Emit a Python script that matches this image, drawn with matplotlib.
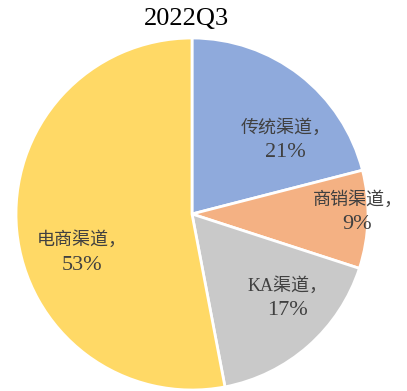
import matplotlib
matplotlib.use("Agg")
import matplotlib.pyplot as plt

channels = ["传统渠道", "商销渠道", "KA渠道", "电商渠道"]
shares = [21, 9, 17, 53]
colors = ["#8FAADC", "#F4B183", "#C9C9C9", "#FFD966"]
# label centres as fractions of the radius
label_xy = [(0.53, 0.42), (0.94, 0.01), (0.54, -0.48), (-0.625, -0.22)]

plt.rcParams["font.family"] = ["Liberation Serif", "Noto Sans CJK SC"]

fig = plt.figure(figsize=(4.07, 3.91), dpi=100)
ax = fig.add_axes([16 / 407, 1 / 391, 352 / 407, 352 / 391])

ax.pie(shares, colors=colors, startangle=90, counterclock=False,
       wedgeprops=dict(edgecolor="white", linewidth=2))
ax.set_xlim(-1, 1)
ax.set_ylim(-1, 1)
ax.set_aspect("equal")

txt_color = "#404040"
for name, val, (x, y) in zip(channels, shares, label_xy):
    ax.annotate(f"{name}，", (x, y), xytext=(0, 9), textcoords="offset points",
                ha="center", va="center", fontsize=13, color=txt_color,
                annotation_clip=False)
    ax.annotate(f"{val}%", (x, y), xytext=(0, -9), textcoords="offset points",
                ha="center", va="center", fontsize=16, color=txt_color,
                annotation_clip=False)

fig.text(186 / 407, 1 - 19 / 391, "2022Q3", ha="center", va="center",
         fontsize=19, color="black")

fig.savefig("out.png", dpi=100)
